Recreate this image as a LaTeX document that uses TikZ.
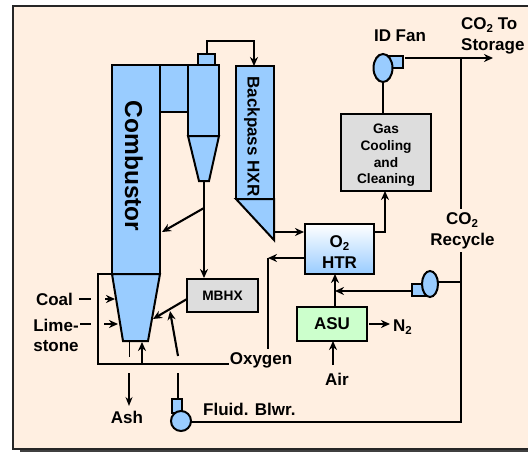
\documentclass[tikz,border=0pt]{standalone}
\usepackage{fontspec}
\setmainfont{Liberation Sans}
\usetikzlibrary{arrows.meta,shapes.geometric}
\definecolor{paper}{RGB}{255,239,225}
\definecolor{vessel}{RGB}{153,204,255}
\definecolor{panel}{RGB}{221,221,221}
\definecolor{asugreen}{RGB}{204,255,204}
\newcommand{\subtwo}{\raisebox{-3.5pt}{\fontsize{11.5}{11.5}\selectfont 2}}
\begin{document}
\begin{tikzpicture}[x=1pt,y=-1pt,
    unit/.style ={draw, line width=2pt, inner sep=0pt, outer sep=0pt},
    vesselbox/.style ={unit, fill=vessel},
    greybox/.style ={unit, fill=panel, font=\bfseries\fontsize{13.7}{16.7}\selectfont, align=center},
    fanbody/.style ={unit, fill=vessel, ellipse},
    tagtext/.style ={inner sep=0pt, font=\bfseries\fontsize{17}{20}\selectfont, align=center},
    hopperfill/.style ={fill=vessel, draw, line width=2pt},
    pipe/.style ={line width=2.1pt},
    flow/.style ={pipe, -{Stealth[length=9pt,width=8pt]}}]
   \useasboundingbox (0,0) rectangle (528,452);
   \fill[black!75] (20,450) rectangle (528,452);
   \filldraw[fill=paper, draw=black!85, line width=1.4pt] (528,6) -- (13,6) -- (13,449) -- (528,449);

   \node[vesselbox, minimum width=28, minimum height=47] (crossover) at (174,88.5) {};
   \node[vesselbox, minimum width=48, minimum height=209] (combustor) at (136,169.5) {};
   \node[vesselbox, minimum width=17, minimum height=11] (cap) at (206.5,59.5) {};
   \node[vesselbox, minimum width=31, minimum height=71] (cyclone) at (203.5,100.5) {};
   \node[vesselbox, minimum width=38, minimum height=133] (backpass) at (255,132.5) {};
   \coordinate (conebase) at (204,181);
   \coordinate (hoppertip) at (274,240);
   \draw[hopperfill] (cyclone.south west) -- (cyclone.south east) -- (209,181) -- (199,181) -- cycle;
   \draw[hopperfill] (backpass.south west) -- (backpass.south east) -- (hoppertip) -- cycle;
   \draw[hopperfill] (combustor.south west) -- (combustor.south east) -- (148,341) -- (123,341) -- cycle;

   \node[tagtext, rotate=-90, font=\bfseries\fontsize{24.5}{28}\selectfont] (combustorlabel) at (134,166) {Combustor};
   \node[tagtext, rotate=-90] (backpasslabel) at (252,136.5) {Backpass HXR};

   \node[greybox, minimum width=71, minimum height=33] (mbhx) at (222.5,295.5) {MBHX};
   \node[greybox, minimum width=90, minimum height=77] (gas) at (386,152.5) {};
   \node[greybox, draw=none, fill=none] (gaslabel) at (386,155.5) {Gas\\Cooling\\and\\Cleaning};
   \node[unit, top color=white, bottom color=vessel, minimum width=69, minimum height=50] (htr) at (339.5,249) {};
   \node[tagtext] (o2label) at (339.5,243) {O\subtwo};
   \node[tagtext] (htrlabel) at (339.5,263) {HTR};
   \node[unit, tagtext, draw, fill=asugreen, minimum width=70, minimum height=34] (asu) at (332,324) {ASU};

   \node[vesselbox, minimum width=20, minimum height=12] (idduct) at (393,62) {};
   \node[fanbody, minimum width=19, minimum height=28] (idfan) at (383,68) {};
   \node[vesselbox, minimum width=16, minimum height=12] (recduct) at (420,290) {};
   \node[fanbody, minimum width=16, minimum height=26] (recfan) at (430,284) {};
   \node[vesselbox, minimum width=10, minimum height=14] (blwduct) at (177,405.5) {};
   \node[unit, fill=vessel, circle, minimum size=20] (blower) at (181,421) {};

   \node[tagtext] (idlabel) at (400,36) {ID Fan};
   \node[tagtext, anchor=west] (tolabel) at (461,25) {CO\subtwo{} To};
   \node[tagtext, anchor=west] (storagelabel) at (461,46) {Storage};
   \node[tagtext] (co2label) at (462,220) {CO\subtwo};
   \node[tagtext] (recyclelabel) at (462.5,241) {Recycle};
   \node[tagtext, anchor=west] (n2label) at (393,327) {N\subtwo};
   \node[tagtext] (airlabel) at (337,379) {Air};
   \node[tagtext] (coallabel) at (54.5,299) {Coal};
   \node[tagtext] (limelabel) at (56,325) {Lime-};
   \node[tagtext] (stonelabel) at (56,346) {stone};
   \node[tagtext] (oxygenlabel) at (261,360) {Oxygen};
   \node[tagtext] (ashlabel) at (127,417) {Ash};
   \node[tagtext, anchor=west] (fluidlabel) at (203,409) {Fluid. Blwr.};

   \coordinate (topleft) at (207,41);
   \coordinate (topright) at (254,41);
   \coordinate (branch) at (204,208);
   \coordinate (combustorin) at (162,232);
   \coordinate (mbhxtop) at (204,278);
   \coordinate (mbhxout) at (187,299);
   \coordinate (hopperin) at (153,319);
   \coordinate (oxyleft) at (98,274);
   \coordinate (oxycorner) at (98,364);
   \coordinate (oxyend) at (229,364);
   \coordinate (oxyup) at (142,364);
   \coordinate (hopperbase) at (142,342);
   \coordinate (oxyslant) at (178,356);
   \coordinate (slanttip) at (170,311);
   \coordinate (blwtop) at (178,373);
   \coordinate (ducttop) at (178,399);
   \coordinate (bpout) at (274,232);
   \coordinate (htrin) at (304,232);
   \coordinate (htrout) at (374,232);
   \coordinate (elbow) at (385,232);
   \coordinate (gasin) at (385,191);
   \coordinate (htrback) at (305,258);
   \coordinate (oxybend) at (268,258);
   \coordinate (oxydrop) at (268,349);
   \coordinate (fanout) at (405,58);
   \coordinate (tee) at (461,58);
   \coordinate (co2end) at (493,58);
   \coordinate (recycletop) at (461,209);
   \coordinate (recycledown) at (461,252);
   \coordinate (recyclefloor) at (461,422);
   \coordinate (rectee) at (461,282);
   \coordinate (recmerge) at (335,291);
   \coordinate (recout) at (412,291);
   \coordinate (n2start) at (369,324);
   \coordinate (n2end) at (390,324);
   \coordinate (airstart) at (333,365);
   \coordinate (coalgapa) at (79,299);
   \coordinate (coalgapb) at (91,299);
   \coordinate (coalfrom) at (105,299);
   \coordinate (coalto) at (115,299);
   \coordinate (limegapa) at (80,324);
   \coordinate (limegapb) at (91,324);
   \coordinate (limefrom) at (104,324);
   \coordinate (limeto) at (118,324);
   \coordinate (ashtop) at (129,342);
   \coordinate (ashmid) at (129,357);
   \coordinate (ashlow) at (129,373);
   \coordinate (ashtip) at (129,406);

   \draw[flow] (cap.north -| topleft) -- (topleft) -- (topright) -- (backpass.north -| topright);
   \draw[flow] (conebase) -- (mbhxtop);
   \draw[flow] (branch) -- (combustorin);
   \draw[flow] (mbhxout) -- (hopperin);
   \draw[pipe] (combustor.south west) -- (oxyleft) -- (oxycorner) -- (oxyend);
   \draw[flow] (oxyup) -- (hopperbase);
   \draw[flow] (oxyslant) -- (slanttip);
   \draw[pipe] (blwtop) -- (ducttop);
   \draw[flow] (bpout) -- (htrin);
   \draw[flow] (htrout) -- (elbow) -- (gasin);
   \draw[flow] (htrback) -- (oxybend);
   \draw[pipe] (oxybend) -- (oxydrop);
   \draw[pipe] (gas.north -| idfan) -- (idfan.south);
   \draw[flow] (fanout) -- (co2end);
   \draw[pipe] (tee) -- (recycletop);
   \draw[pipe] (recycledown) -- (recyclefloor) -- (blower.east |- recyclefloor);
   \draw[pipe] (recfan.east |- rectee) -- (rectee);
   \draw[flow] (recout) -- (recmerge);
   \draw[flow] (asu.north -| recmerge) -- (htr.south -| recmerge);
   \draw[flow] (n2start) -- (n2end);
   \draw[flow] (airstart) -- (asu.south -| airstart);
   \draw[pipe] (coalgapa) -- (coalgapb);
   \draw[flow] (coalfrom) -- (coalto);
   \draw[pipe] (limegapa) -- (limegapb);
   \draw[flow] (limefrom) -- (limeto);
   \draw[line width=1pt] (ashtop) -- (ashmid);
   \draw[line width=1.4pt, -{Stealth[length=9pt,width=7pt]}] (ashlow) -- (ashtip);
 \end{tikzpicture}
\end{document}
